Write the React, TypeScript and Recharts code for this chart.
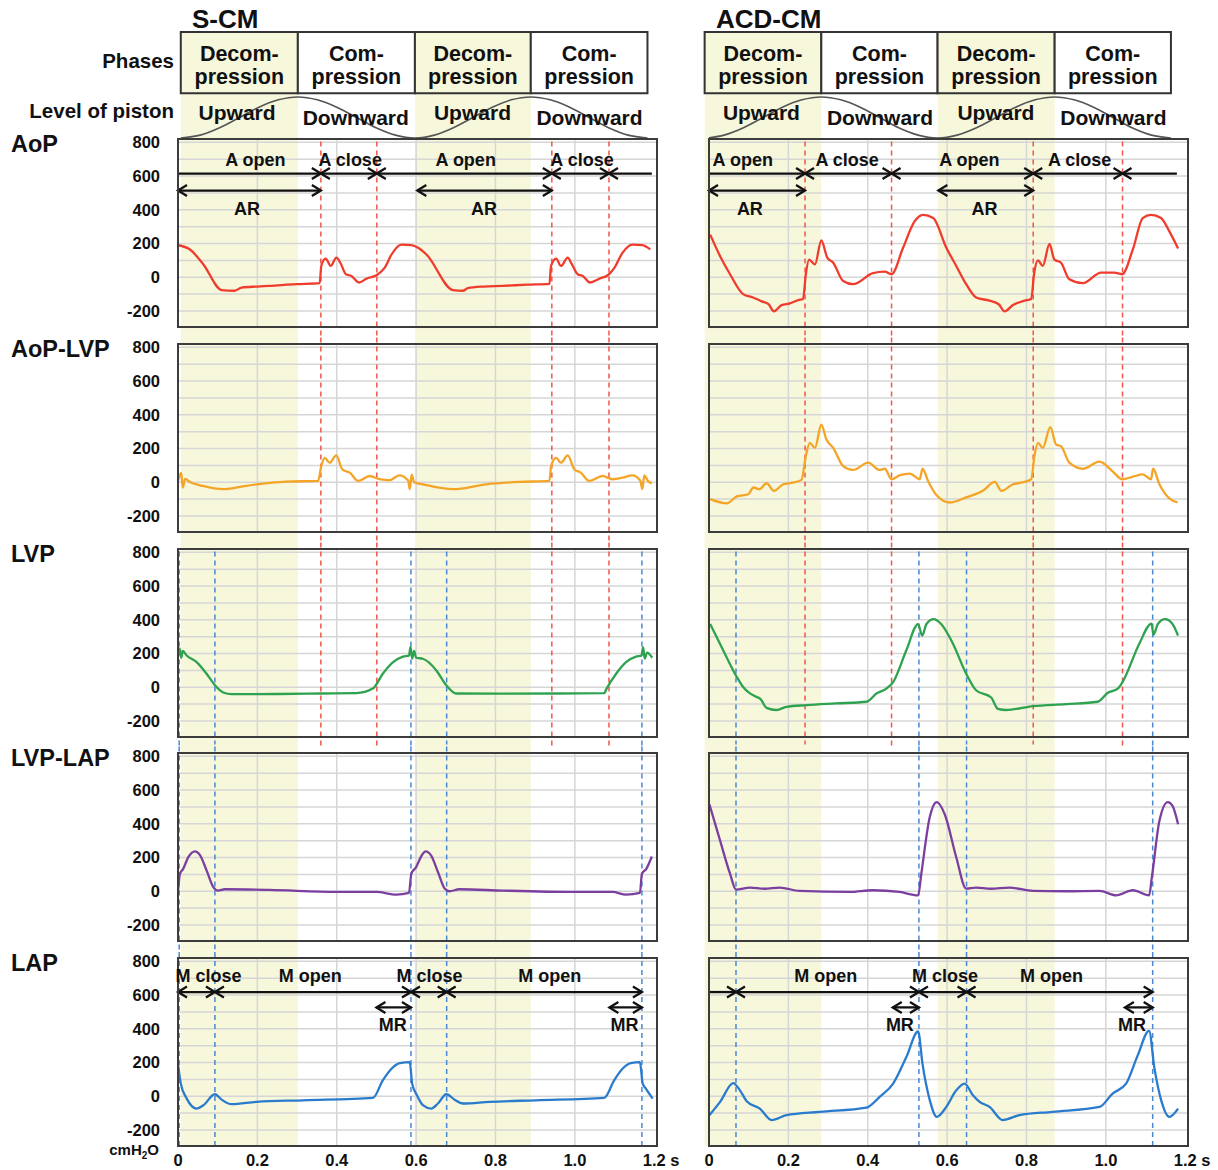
import React from "react";
import {
  CartesianGrid,
  Line,
  LineChart,
  ReferenceArea,
  ReferenceDot,
  ReferenceLine,
  XAxis,
  YAxis,
} from "recharts";

type Pt = [number, number];
type Arrow = [number, number, number, string]; // from s, to s, level, heads
type Note = [string, number, number]; // text, s, level

// ---- S-CM traces: [time s, cmH2O] ----
const scmAoP: Pt[] = [
  [0, 190], [0.03, 165], [0.064, 76], [0.11, -76], [0.143, -80], [0.16, -61], [0.2, -55], [0.231, -51],
  [0.298, -41], [0.357, -35], [0.361, 67], [0.372, 110], [0.385, 67], [0.399, 116], [0.409, 86], [0.423, 18],
  [0.437, 8], [0.456, -31], [0.475, -8], [0.5, 12], [0.521, 57], [0.538, 135], [0.563, 194], [0.588, 190],
  [0.605, 175], [0.626, 135], [0.693, -76], [0.718, -80], [0.73, -65], [0.77, -55], [0.818, -51], [0.88, -44],
  [0.936, -39], [0.94, 67], [0.953, 110], [0.965, 67], [0.982, 116], [0.992, 80], [1.007, 18], [1.02, 8],
  [1.038, -31], [1.062, -8], [1.083, 12], [1.1, 57], [1.12, 145], [1.145, 194], [1.17, 190], [1.19, 165],
];
const scmAoPLVP: Pt[] = [
  [0, 8], [0.008, 55], [0.012, -31], [0.018, 20], [0.03, 2], [0.063, -22], [0.114, -41], [0.15, -30],
  [0.198, -12], [0.273, 4], [0.353, 8], [0.361, 96], [0.37, 145], [0.382, 116], [0.399, 159], [0.414, 76],
  [0.433, 57], [0.454, 8], [0.483, 37], [0.508, 18], [0.533, 12], [0.558, 41], [0.58, 10], [0.584, -40],
  [0.589, 45], [0.595, 0], [0.617, -12], [0.693, -41], [0.777, -12], [0.86, 2], [0.936, 8], [0.94, 96],
  [0.953, 145], [0.965, 116], [0.982, 159], [0.999, 76], [1.015, 57], [1.036, 8], [1.07, 37], [1.095, 18],
  [1.12, 27], [1.145, 41], [1.165, 10], [1.17, -40], [1.175, 40], [1.185, 5], [1.194, -6],
];
const scmLVP: Pt[] = [
  [0, 180], [0.004, 230], [0.008, 175], [0.012, 215], [0.022, 188], [0.047, 149], [0.072, 80], [0.093, 12],
  [0.114, -31], [0.135, -41], [0.25, -40], [0.358, -37], [0.45, -35], [0.491, -8], [0.516, 80], [0.542, 149],
  [0.567, 182], [0.582, 188], [0.586, 240], [0.59, 170], [0.595, 215], [0.6, 175], [0.617, 169], [0.651, 100],
  [0.676, 12], [0.701, -37], [0.8, -38], [0.95, -37], [1.074, -35], [1.08, -8], [1.104, 80], [1.129, 149],
  [1.154, 182], [1.168, 188], [1.172, 238], [1.176, 170], [1.182, 205], [1.195, 175],
];
const scmLVPLAP: Pt[] = [
  [0, -4], [0.005, 104], [0.013, 133], [0.026, 202], [0.043, 237], [0.055, 216], [0.072, 124], [0.089, 25],
  [0.101, 4], [0.118, 12], [0.231, 8], [0.399, -4], [0.5, -4], [0.55, -20], [0.582, -10], [0.588, 104],
  [0.6, 143], [0.614, 212], [0.624, 237], [0.638, 212], [0.655, 114], [0.672, 16], [0.684, 0], [0.709, 12],
  [0.818, 4], [1.0, -4], [1.095, -4], [1.129, -20], [1.164, -10], [1.169, 104], [1.18, 133], [1.194, 206],
];
const scmLAP: Pt[] = [
  [0, 192], [0.007, 75], [0.022, -14], [0.047, -73], [0.064, -53], [0.093, 12], [0.11, -20], [0.135, -47],
  [0.198, -33], [0.316, -24], [0.491, -10], [0.516, 94], [0.538, 163], [0.559, 196], [0.584, 202], [0.59, 75],
  [0.602, 6], [0.617, -53], [0.638, -73], [0.655, -43], [0.676, 12], [0.697, -20], [0.718, -43], [0.785, -33],
  [0.902, -24], [1.074, -10], [1.099, 94], [1.12, 163], [1.141, 196], [1.164, 202], [1.171, 75], [1.179, 45],
  [1.196, -14],
];

// ---- ACD-CM traces ----
const acdAoP: Pt[] = [
  [0.003, 253], [0.028, 125], [0.053, 18], [0.086, -100], [0.111, -120], [0.133, -143], [0.15, -160],
  [0.164, -202], [0.183, -165], [0.204, -155], [0.225, -135], [0.237, -129], [0.244, 18], [0.252, 104],
  [0.267, 76], [0.283, 218], [0.298, 116], [0.313, 86], [0.338, -22], [0.363, -41], [0.413, 24], [0.443, 33],
  [0.46, 18], [0.489, 175], [0.518, 331], [0.539, 370], [0.565, 351], [0.598, 175], [0.623, 67], [0.648, -41],
  [0.673, -120], [0.707, -139], [0.73, -160], [0.745, -202], [0.766, -165], [0.795, -139], [0.812, -129],
  [0.819, 18], [0.829, 100], [0.841, 67], [0.858, 198], [0.87, 106], [0.887, 86], [0.908, -12], [0.942, -35],
  [0.988, 27], [1.021, 27], [1.041, 18], [1.068, 165], [1.093, 351], [1.114, 370], [1.139, 351], [1.16, 272],
  [1.182, 171],
];
const acdAoPLVP: Pt[] = [
  [0.003, -100], [0.045, -125], [0.07, -84], [0.099, -71], [0.112, -31], [0.127, -41], [0.145, -6],
  [0.164, -51], [0.187, -12], [0.212, -2], [0.233, 14], [0.244, 155], [0.254, 233], [0.267, 204], [0.283, 341],
  [0.296, 253], [0.313, 204], [0.338, 96], [0.363, 73], [0.401, 116], [0.43, 73], [0.443, 80], [0.46, 18],
  [0.48, 41], [0.506, 51], [0.531, 18], [0.538, 80], [0.552, 8], [0.573, -76], [0.606, -120], [0.648, -90],
  [0.69, -51], [0.72, 2], [0.737, -51], [0.766, -12], [0.787, -2], [0.812, 18], [0.82, 155], [0.829, 233],
  [0.841, 204], [0.86, 327], [0.875, 223], [0.887, 214], [0.908, 116], [0.942, 80], [0.984, 122], [1.017, 65],
  [1.041, 18], [1.068, 33], [1.093, 47], [1.114, 18], [1.119, 80], [1.135, -12], [1.16, -96], [1.181, -120],
];
const acdLVP: Pt[] = [
  [0.003, 375], [0.036, 218], [0.07, 61], [0.086, 2], [0.1, -30], [0.116, -53], [0.13, -70], [0.145, -122],
  [0.17, -135], [0.195, -116], [0.246, -106], [0.32, -96], [0.397, -86], [0.422, -37], [0.447, -8], [0.464, 31],
  [0.497, 218], [0.527, 375], [0.537, 306], [0.548, 375], [0.566, 404], [0.585, 375], [0.615, 257], [0.648, 80],
  [0.673, -18], [0.711, -61], [0.728, -128], [0.749, -135], [0.816, -112], [0.9, -100], [0.979, -86],
  [1.005, -33], [1.03, -8], [1.042, 31], [1.084, 257], [1.115, 378], [1.12, 312], [1.131, 375], [1.149, 404],
  [1.168, 375], [1.182, 306],
];
const acdLVPLAP: Pt[] = [
  [0.001, 516], [0.028, 300], [0.053, 104], [0.068, 10], [0.103, 22], [0.14, 15], [0.178, 22], [0.228, 2],
  [0.354, -4], [0.413, 6], [0.48, -4], [0.527, -24], [0.535, 104], [0.556, 437], [0.574, 529], [0.594, 457],
  [0.623, 202], [0.648, 16], [0.673, 22], [0.71, 15], [0.757, 22], [0.816, 2], [0.9, 0], [0.984, 2],
  [1.026, -24], [1.068, 6], [1.109, -24], [1.116, 84], [1.135, 418], [1.156, 529], [1.168, 506], [1.182, 398],
];
const acdLAP: Pt[] = [
  [0.001, -112], [0.028, -33], [0.061, 78], [0.078, 35], [0.095, -29], [0.128, -73], [0.158, -141],
  [0.195, -112], [0.279, -92], [0.397, -67], [0.43, -4], [0.464, 75], [0.497, 231], [0.527, 384], [0.538, 192],
  [0.556, -20], [0.574, -122], [0.598, -63], [0.623, 35], [0.644, 75], [0.665, 6], [0.682, -33], [0.707, -63],
  [0.74, -141], [0.782, -112], [0.866, -92], [0.984, -63], [1.017, 16], [1.051, 75], [1.08, 241], [1.109, 388],
  [1.122, 173], [1.139, -20], [1.16, -122], [1.182, -73],
];

// valve events (s)
const scmRed = [0.36, 0.501, 0.942, 1.086];
const scmBlue = [0.003, 0.093, 0.587, 0.677, 1.169];
const acdRed = [0.242, 0.46, 0.817, 1.042];
const acdBlue = [0.068, 0.529, 0.649, 1.118];

// phase boundaries: decom, com, decom, com
const scmPhases = [0.007, 0.302, 0.597, 0.889, 1.183];
const acdPhases = [-0.011, 0.283, 0.576, 0.871, 1.164];

// piston level (0 = bottom, 1 = top)
const scmPiston: Pt[] = [
  [0.007, 0], [0.056, 0.07], [0.105, 0.25], [0.155, 0.5], [0.204, 0.75], [0.253, 0.93], [0.302, 1],
  [0.351, 0.93], [0.4, 0.75], [0.45, 0.5], [0.499, 0.25], [0.548, 0.07], [0.597, 0], [0.646, 0.07],
  [0.694, 0.25], [0.743, 0.5], [0.792, 0.75], [0.84, 0.93], [0.889, 1], [0.938, 0.93], [0.987, 0.75],
  [1.036, 0.5], [1.085, 0.25], [1.134, 0.07], [1.183, 0],
];
const acdPiston: Pt[] = [
  [0, 0.002], [0.038, 0.07], [0.087, 0.25], [0.136, 0.5], [0.185, 0.75], [0.234, 0.93], [0.283, 1],
  [0.332, 0.93], [0.381, 0.75], [0.43, 0.5], [0.478, 0.25], [0.527, 0.07], [0.576, 0], [0.625, 0.07],
  [0.674, 0.25], [0.724, 0.5], [0.773, 0.75], [0.822, 0.93], [0.871, 1], [0.92, 0.93], [0.969, 0.75],
  [1.018, 0.5], [1.066, 0.25], [1.115, 0.07], [1.164, 0],
];
const scmPistonNotes: Note[] = [["Upward", 0.149, 0.62], ["Downward", 0.448, 0.51], ["Upward", 0.742, 0.62], ["Downward", 1.037, 0.51]];
const acdPistonNotes: Note[] = [["Upward", 0.132, 0.62], ["Downward", 0.431, 0.51], ["Upward", 0.723, 0.62], ["Downward", 1.019, 0.51]];

// annotations
const scmAoPArrows: Arrow[] = [
  [0, 0.36, 615, ">"], [0.36, 0.501, 615, "<>"], [0.501, 0.942, 615, "<>"], [0.942, 1.086, 615, "<>"],
  [1.086, 1.194, 615, "<"], [0, 0.36, 514, "<>"], [0.603, 0.942, 514, "<>"],
];
const scmAoPNotes: Note[] = [["A open", 0.195, 700], ["A close", 0.434, 700], ["A open", 0.725, 700], ["A close", 1.018, 700], ["AR", 0.174, 406], ["AR", 0.771, 406]];
const acdAoPArrows: Arrow[] = [
  [0, 0.242, 615, ">"], [0.242, 0.46, 615, "<>"], [0.46, 0.817, 615, "<>"], [0.817, 1.042, 615, "<>"],
  [1.042, 1.179, 615, "<"], [0, 0.242, 514, "<>"], [0.578, 0.817, 514, "<>"],
];
const acdAoPNotes: Note[] = [["A open", 0.085, 700], ["A close", 0.348, 700], ["A open", 0.656, 700], ["A close", 0.934, 700], ["AR", 0.103, 406], ["AR", 0.694, 406]];
const scmLAPArrows: Arrow[] = [
  [0, 0.093, 618, "<>"], [0.093, 0.587, 618, "<>"], [0.587, 0.677, 618, "<>"], [0.677, 1.169, 618, "<>"],
  [0.5, 0.587, 527, "<>"], [1.087, 1.169, 527, "<>"],
];
const scmLAPNotes: Note[] = [["M close", 0.077, 715], ["M open", 0.333, 715], ["M close", 0.634, 715], ["M open", 0.937, 715], ["MR", 0.541, 424], ["MR", 1.125, 424]];
const acdLAPArrows: Arrow[] = [
  [0, 0.068, 618, ">"], [0.068, 0.529, 618, "<>"], [0.529, 0.649, 618, "<>"], [0.649, 1.118, 618, "<>"],
  [0.463, 0.529, 527, "<>"], [1.048, 1.118, 527, "<>"],
];
const acdLAPNotes: Note[] = [["M open", 0.294, 715], ["M close", 0.595, 715], ["M open", 0.863, 715], ["MR", 0.481, 424], ["MR", 1.066, 424]];

const ROW_NAMES = ["AoP", "AoP-LVP", "LVP", "LVP-LAP", "LAP"];
const ROW_COLORS = ["#f03c2d", "#f4a528", "#2ea24f", "#7b3f9f", "#2a7bcc"];
const X_TICKS = [0, 0.2, 0.4, 0.6, 0.8, 1.0, 1.2];
const X_GRID = [0.2, 0.4, 0.6, 0.8, 1.0];
const Y_LABELS = [-200, 0, 200, 400, 600, 800];
const Y_GRID = [-200, -100, 0, 100, 200, 300, 400, 500, 600, 700, 800];

// layout
const FONT = '"Liberation Sans", Arial, Helvetica, sans-serif';
const SHADE = "#f7f7dc";
const INK = "#111";
const PLOT_W = 479;
const PLOT_H = 188;
const PANEL_TOP = 139;
const PANEL_STEP = 204.75;
const X_DOMAIN: [number, number] = [0, 1.207];
const Y_DOMAIN: [number, number] = [-295, 820];
const GAP = 50; // half of the gap between panels, in cmH2O
const HEADER_TOP = 32;
const HEADER_H = 107;
const HEAD_DOMAIN: [number, number] = [-0.025, 2.585];
const BOX_BOTTOM = 1.09;

type Column = {
  key: string;
  left: number;
  showY: boolean;
  phases: number[];
  piston: Pt[];
  pistonNotes: Note[];
  red: number[];
  blue: number[];
  series: Pt[][];
  aoArrows: Arrow[];
  aoNotes: Note[];
  mArrows: Arrow[];
  mNotes: Note[];
};

const COLUMNS: Column[] = [
  {
    key: "scm", left: 178, showY: true, phases: scmPhases, piston: scmPiston, pistonNotes: scmPistonNotes,
    red: scmRed, blue: scmBlue, series: [scmAoP, scmAoPLVP, scmLVP, scmLVPLAP, scmLAP],
    aoArrows: scmAoPArrows, aoNotes: scmAoPNotes, mArrows: scmLAPArrows, mNotes: scmLAPNotes,
  },
  {
    key: "acd", left: 709, showY: false, phases: acdPhases, piston: acdPiston, pistonNotes: acdPistonNotes,
    red: acdRed, blue: acdBlue, series: [acdAoP, acdAoPLVP, acdLVP, acdLVPLAP, acdLAP],
    aoArrows: acdAoPArrows, aoNotes: acdAoPNotes, mArrows: acdLAPArrows, mNotes: acdLAPNotes,
  },
];

const decomps = (p: number[]) => [[p[0], p[1]], [p[2], p[3]]];

function arrowShape(heads: string) {
  return (p: any) => {
    const { x1, x2, y1 } = p;
    const y = y1;
    const L = 9;
    const H = 5.5;
    return (
      <g>
        <line x1={x1} y1={y} x2={x2} y2={y} stroke={INK} strokeWidth={2.3} />
        {heads.includes(">") && (
          <polyline points={`${x2 - L},${y - H} ${x2},${y} ${x2 - L},${y + H}`} fill="none" stroke={INK} strokeWidth={2.3} />
        )}
        {heads.includes("<") && (
          <polyline points={`${x1 + L},${y - H} ${x1},${y} ${x1 + L},${y + H}`} fill="none" stroke={INK} strokeWidth={2.3} />
        )}
      </g>
    );
  };
}

function PhaseText(props: any) {
  const vb = props.viewBox || { x: 0, y: 0, width: 0, height: 0 };
  const cx = vb.x + vb.width / 2;
  const cy = vb.y + vb.height / 2;
  return (
    <text textAnchor="middle" fontFamily={FONT} fontSize={21.5} fontWeight={700} fill={INK}>
      <tspan x={cx} y={cy - 2}>{props.lines[0]}</tspan>
      <tspan x={cx} y={cy + 21}>{props.lines[1]}</tspan>
    </text>
  );
}

function TimeTick(props: any) {
  const { x, y, payload } = props;
  const v = payload.value as number;
  const txt = v === 0 ? "0" : v.toFixed(1);
  return (
    <g>
      <text x={x} y={y} dy="0.71em" textAnchor="middle" fontFamily={FONT} fontSize={16.5} fontWeight={700} fill={INK}>
        {txt}
      </text>
      {v === 1.2 && (
        <text x={x + 16} y={y} dy="0.71em" textAnchor="start" fontFamily={FONT} fontSize={16.5} fontWeight={700} fill={INK}>
          s
        </text>
      )}
    </g>
  );
}

const noteLabel = (value: string, size: number) => ({
  value,
  position: "center" as const,
  fill: INK,
  fontSize: size,
  fontWeight: 700,
  fontFamily: FONT,
});

function Header({ col }: { col: Column }) {
  const data = col.piston.map(([t, v]) => ({ t, v }));
  const p = col.phases;
  return (
    <div style={{ position: "absolute", left: col.left, top: HEADER_TOP }}>
      <LineChart width={PLOT_W} height={HEADER_H} data={data} margin={{ top: 0, right: 0, bottom: 0, left: 0 }}>
        <XAxis type="number" dataKey="t" domain={X_DOMAIN} allowDataOverflow hide />
        <YAxis type="number" domain={HEAD_DOMAIN} allowDataOverflow hide />
        {decomps(p).map(([a, b], i) => (
          <ReferenceArea key={`s${i}`} x1={a} x2={b} y1={HEAD_DOMAIN[0]} y2={BOX_BOTTOM} fill={SHADE} fillOpacity={1} stroke="none" ifOverflow="visible" />
        ))}
        {[0, 1, 2, 3].map((i) => (
          <ReferenceArea
            key={`b${i}`}
            x1={p[i]}
            x2={p[i + 1]}
            y1={BOX_BOTTOM}
            y2={HEAD_DOMAIN[1]}
            fill={i % 2 === 0 ? SHADE : "#ffffff"}
            fillOpacity={1}
            stroke="#333"
            strokeWidth={2}
            ifOverflow="visible"
            label={<PhaseText lines={i % 2 === 0 ? ["Decom-", "pression"] : ["Com-", "pression"]} />}
          />
        ))}
        <Line type="monotone" dataKey="v" stroke="#555" strokeWidth={1.6} dot={false} isAnimationActive={false} />
        {col.pistonNotes.map(([txt, t, lv], i) => (
          <ReferenceDot key={`n${i}`} x={t} y={lv} r={0} fill="none" stroke="none" ifOverflow="visible" label={noteLabel(txt, 21)} />
        ))}
      </LineChart>
    </div>
  );
}

function Panel({ col, row }: { col: Column; row: number }) {
  const top = PANEL_TOP + row * PANEL_STEP;
  const yW = col.showY ? 80 : 0;
  const last = row === 4;
  const xH = last ? 30 : 0;
  const up = row === 0 ? 0 : GAP;
  const down = last ? 0 : GAP;
  const [yLo, yHi] = Y_DOMAIN;
  const data = col.series[row].map(([t, v]) => ({ t, v }));
  const red = row <= 2 ? col.red : [];
  const blue = row >= 2 ? col.blue : [];
  const blueUp = row === 2 ? 0 : GAP;
  const arrows = row === 0 ? col.aoArrows : last ? col.mArrows : [];
  const notes = row === 0 ? col.aoNotes : last ? col.mNotes : [];
  return (
    <div style={{ position: "absolute", left: col.left - yW, top }}>
      <LineChart width={yW + PLOT_W} height={PLOT_H + xH} data={data} margin={{ top: 0, right: 0, bottom: 0, left: 0 }}>
        {decomps(col.phases).map(([a, b], i) => (
          <ReferenceArea
            key={`s${i}`}
            x1={a}
            x2={b}
            y1={yLo - down}
            y2={yHi + up}
            fill={SHADE}
            fillOpacity={1}
            stroke="none"
            ifOverflow="visible"
            zIndex={-200}
          />
        ))}
        <CartesianGrid stroke="#d6d6d6" strokeWidth={1.5} horizontalValues={Y_GRID} verticalValues={X_GRID} />
        <XAxis
          type="number"
          dataKey="t"
          domain={X_DOMAIN}
          allowDataOverflow
          ticks={X_TICKS}
          interval={0}
          hide={!last}
          height={xH}
          axisLine={false}
          tickLine={false}
          tick={<TimeTick />}
        />
        <YAxis
          type="number"
          domain={Y_DOMAIN}
          allowDataOverflow
          ticks={Y_LABELS}
          interval={0}
          hide={!col.showY}
          width={yW}
          axisLine={false}
          tickLine={false}
          tickMargin={12}
          tick={{ fill: INK, fontSize: 16.5, fontWeight: 700, fontFamily: FONT }}
        />
        {red.map((t) => (
          <ReferenceLine
            key={`r${t}`}
            segment={[{ x: t, y: yLo - GAP }, { x: t, y: yHi + up }]}
            stroke="#f0564a"
            strokeWidth={1.5}
            strokeDasharray="5 4"
            ifOverflow="visible"
          />
        ))}
        {blue.map((t) => (
          <ReferenceLine
            key={`b${t}`}
            segment={[{ x: t, y: yLo - down }, { x: t, y: yHi + blueUp }]}
            stroke="#4a88d4"
            strokeWidth={1.5}
            strokeDasharray="5 4"
            ifOverflow="visible"
          />
        ))}
        <Line type="monotone" dataKey="v" stroke={ROW_COLORS[row]} strokeWidth={2.3} dot={false} isAnimationActive={false} />
        {arrows.map(([a, b, lv, heads], i) => (
          <ReferenceLine
            key={`a${i}`}
            segment={[{ x: a, y: lv }, { x: b, y: lv }]}
            ifOverflow="visible"
            shape={arrowShape(heads)}
          />
        ))}
        {notes.map(([txt, t, lv], i) => (
          <ReferenceDot key={`n${i}`} x={t} y={lv} r={0} fill="none" stroke="none" label={noteLabel(txt, 18)} />
        ))}
        <ReferenceArea
          x1={X_DOMAIN[0]}
          x2={X_DOMAIN[1]}
          y1={yLo}
          y2={yHi}
          fill="none"
          stroke="#3c3c3c"
          strokeWidth={2}
          ifOverflow="visible"
          zIndex={1500}
        />
      </LineChart>
    </div>
  );
}

export default function App() {
  const t = (s: number) => ({ fontFamily: FONT, fontWeight: 700, fontSize: s, fill: INK });
  return (
    <div style={{ position: "absolute", left: 0, top: 0, width: 1218, height: 1170, background: "#fff", overflow: "hidden" }}>
      <style>{`.recharts-surface{overflow:visible}`}</style>
      {COLUMNS.map((col) => (
        <React.Fragment key={col.key}>
          <Header col={col} />
          {ROW_NAMES.map((_, r) => (
            <Panel key={r} col={col} row={r} />
          ))}
        </React.Fragment>
      ))}
      <svg width={1218} height={1170} style={{ position: "absolute", left: 0, top: 0, pointerEvents: "none" }}>
        <text x={192} y={28} {...t(26)}>S-CM</text>
        <text x={716} y={28} {...t(26)}>ACD-CM</text>
        <text x={174} y={68} textAnchor="end" {...t(20.5)}>Phases</text>
        <text x={174} y={118} textAnchor="end" {...t(20.5)}>Level of piston</text>
        {ROW_NAMES.map((n, r) => (
          <text key={n} x={11} y={PANEL_TOP + r * PANEL_STEP + 13} {...t(23.5)}>
            {n}
          </text>
        ))}
        <text x={159} y={1155} textAnchor="end" {...t(15)}>
          cmH<tspan dy={4} fontSize={10}>2</tspan>
          <tspan dy={-4}>O</tspan>
        </text>
      </svg>
    </div>
  );
}
